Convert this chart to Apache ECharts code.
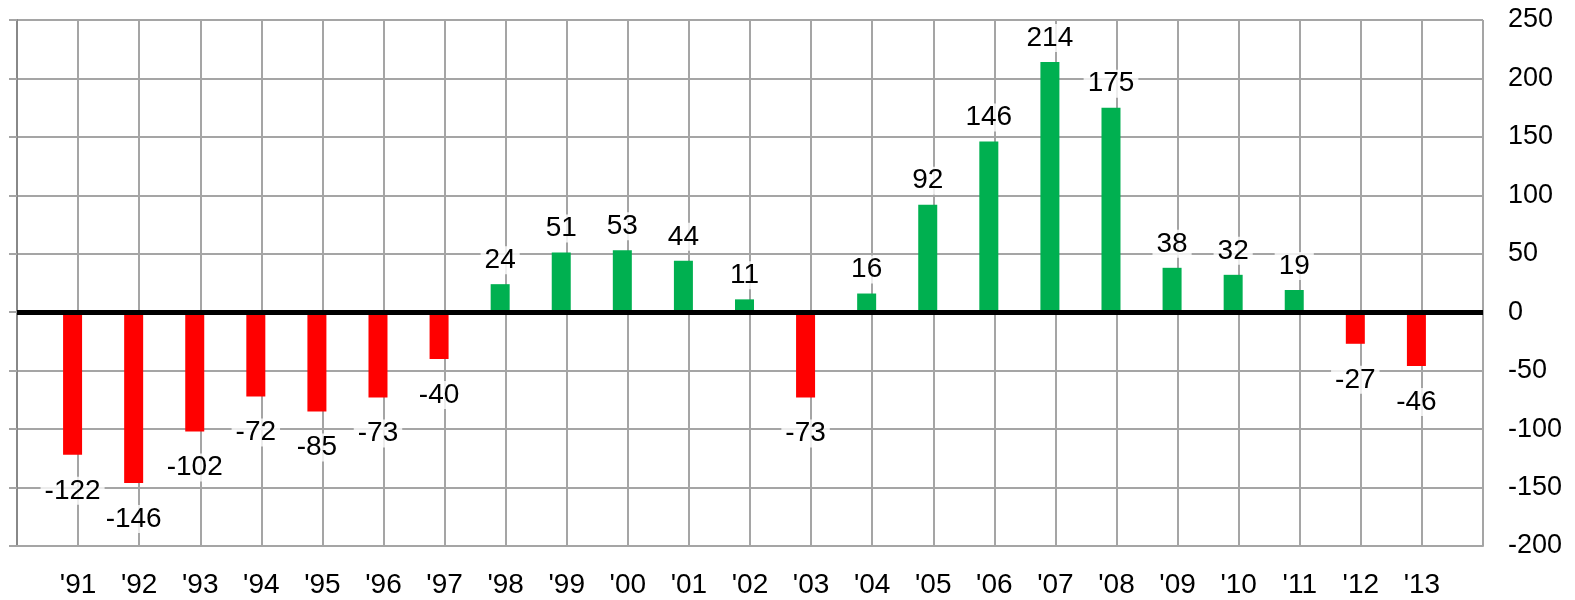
<!DOCTYPE html>
<html>
<head>
<meta charset="utf-8">
<script src="https://cdn.jsdelivr.net/npm/echarts@6/dist/echarts.min.js"></script>
<style>
html,body{margin:0;padding:0;background:#fff;}
#chart{width:1575px;height:600px;}
</style>
</head>
<body>
<div id="chart"></div>
<script>
// Data
var categories = ["'91","'92","'93","'94","'95","'96","'97","'98","'99","'00","'01","'02","'03","'04","'05","'06","'07","'08","'09","'10","'11","'12","'13"];
var values = [-122,-146,-102,-72,-85,-73,-40,24,51,53,44,11,-73,16,92,146,214,175,38,32,19,-27,-46];
var yTicks = [-200,-150,-100,-50,0,50,100,150,200,250];

var FONT = "'Liberation Sans', Arial, sans-serif";
var GRID_COLOR = '#a5a5a5';
var POS_COLOR = '#00B050';
var NEG_COLOR = '#FF0000';

// padded category list: blank slot at each end so gridlines frame the plot
var axisCats = [''].concat(categories).concat(['']);
var seriesData = [null].concat(values.map(function (v) {
  var neg = v < 0;
  return {
    value: v,
    itemStyle: { color: neg ? NEG_COLOR : POS_COLOR },
    label: { position: neg ? 'bottom' : 'top', distance: neg ? 22 : 10 }
  };
})).concat([null]);
var dummyData = axisCats.map(function () { return null; });

var chart = echarts.init(document.getElementById('chart'), null, { renderer: 'canvas' });
chart.setOption({
  animation: false,
  backgroundColor: '#fff',
  textStyle: { fontFamily: FONT },
  grid: { left: 17, right: 92, top: 20, bottom: 54, containLabel: false },
  xAxis: {
    type: 'category',
    data: axisCats,
    boundaryGap: false,
    axisLine: { show: true, onZero: false, lineStyle: { color: GRID_COLOR, width: 2 } },
    axisTick: { show: false },
    axisLabel: { interval: 0, margin: 25, fontSize: 28, color: '#000', fontFamily: FONT },
    splitLine: { show: true, interval: 0, lineStyle: { color: GRID_COLOR, width: 2 } }
  },
  yAxis: [
    {
      type: 'value',
      position: 'left',
      min: yTicks[0],
      max: yTicks[yTicks.length - 1],
      interval: 50,
      axisLine: { show: true, lineStyle: { color: '#888', width: 2 } },
      axisTick: { show: true, inside: false, length: 8, lineStyle: { color: GRID_COLOR, width: 2 } },
      axisLabel: { show: false },
      splitLine: { show: true, lineStyle: { color: GRID_COLOR, width: 2 } }
    },
    {
      type: 'value',
      position: 'right',
      min: yTicks[0],
      max: yTicks[yTicks.length - 1],
      interval: 50,
      axisLine: { show: false },
      axisTick: { show: false },
      splitLine: { show: false },
      axisLabel: { show: true, margin: 25, align: 'left', fontSize: 27, color: '#000', fontFamily: FONT }
    }
  ],
  series: [
    {
      type: 'bar',
      yAxisIndex: 0,
      data: seriesData,
      barWidth: 19,
      barGap: '-42%',
      label: {
        show: true, fontSize: 28, color: '#000', fontFamily: FONT,
        backgroundColor: 'rgba(255,255,255,0.8)', padding: [0, 4]
      },
      markLine: {
        silent: true,
        symbol: ['none', 'none'],
        label: { show: false },
        lineStyle: { color: '#000', width: 5, type: 'solid' },
        data: [{ yAxis: 0 }]
      }
    },
    {
      type: 'bar',
      yAxisIndex: 0,
      data: dummyData,
      barWidth: 19,
      silent: true
    }
  ]
});
</script>
</body>
</html>
